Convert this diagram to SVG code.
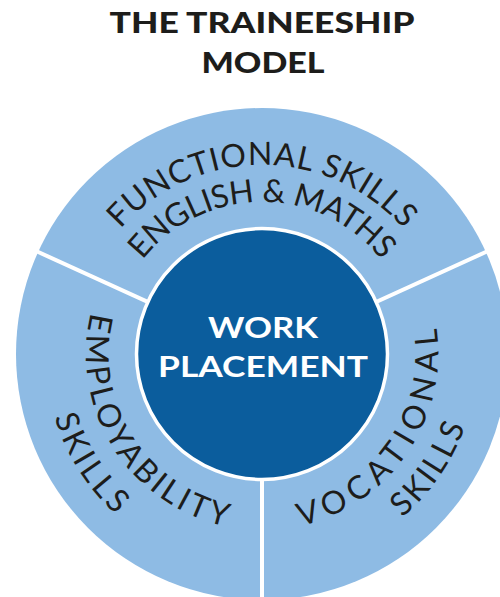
<svg xmlns="http://www.w3.org/2000/svg" width="500" height="597" viewBox="0 0 500 597">
  <defs>
    <style>
      .title { font-family: Lato, "Open Sans", "Liberation Sans", sans-serif; font-weight: 900; font-size: 28px; fill: #1d1d1b; }
      .center { font-family: Lato, "Open Sans", "Liberation Sans", sans-serif; font-weight: 700; font-size: 28px; fill: #ffffff; }
      .arc { font-family: Lato, "Open Sans", "Liberation Sans", sans-serif; font-weight: 400; font-size: 32px; fill: #1d1d1b; }
      .divider { stroke: #ffffff; stroke-width: 4; fill: none; }
    </style>
    <path id="pFunc" d="M 73 354 A 189 189 0 0 1 451 354"/>
    <path id="pEng" d="M 110 354 A 152 152 0 0 1 414 354"/>
    <path id="pEmp" d="M 167.95 205.23 A 176 176 0 0 0 356.05 502.77"/>
    <path id="pSkL" d="M 146.04 170.57 A 217 217 0 0 0 377.96 537.43"/>
    <path id="pVoc" d="M 161.75 499.87 A 177 177 0 0 0 362.25 208.13"/>
    <path id="pSkR" d="M 139.09 532.83 A 217 217 0 0 0 384.91 175.17"/>
  </defs>

  <rect width="500" height="597" fill="#ffffff"/>

  <g id="title">
    <text class="title" x="262" y="33" text-anchor="middle" textLength="305" lengthAdjust="spacingAndGlyphs">THE TRAINEESHIP</text>
    <text class="title" x="263" y="73" text-anchor="middle" textLength="123" lengthAdjust="spacingAndGlyphs">MODEL</text>
  </g>

  <g id="outer-ring">
    <circle cx="262" cy="354" r="246" fill="#8ebbe4"/>
  </g>

  <g id="connectors">
    <line class="divider" x1="262" y1="354" x2="34.5" y2="250.3"/>
    <line class="divider" x1="262" y1="354" x2="489.5" y2="250.3"/>
    <line class="divider" x1="262" y1="354" x2="262" y2="600"/>
  </g>

  <g id="segment-functional-skills">
    <text class="arc"><textPath href="#pFunc" startOffset="50%" text-anchor="middle" textLength="320" lengthAdjust="spacing">FUNCTIONAL SKILLS</textPath></text>
    <text class="arc"><textPath href="#pEng" startOffset="50%" text-anchor="middle" textLength="275" lengthAdjust="spacing">ENGLISH &amp; MATHS</textPath></text>
  </g>

  <g id="segment-employability-skills">
    <text class="arc"><textPath href="#pEmp" startOffset="50%" text-anchor="middle" textLength="282" lengthAdjust="spacing">EMPLOYABILITY</textPath></text>
    <text class="arc"><textPath href="#pSkL" startOffset="50%" text-anchor="middle" textLength="117" lengthAdjust="spacing">SKILLS</textPath></text>
  </g>

  <g id="segment-vocational-skills">
    <text class="arc"><textPath href="#pVoc" startOffset="50%" text-anchor="middle" textLength="264" lengthAdjust="spacing">VOCATIONAL</textPath></text>
    <text class="arc"><textPath href="#pSkR" startOffset="50%" text-anchor="middle" textLength="112" lengthAdjust="spacing">SKILLS</textPath></text>
  </g>

  <g id="center-work-placement">
    <circle cx="262" cy="354" r="125.5" fill="#0b5d9d" stroke="#ffffff" stroke-width="3.5"/>
    <text class="center" x="263" y="338" text-anchor="middle" textLength="110" lengthAdjust="spacingAndGlyphs">WORK</text>
    <text class="center" x="263" y="377" text-anchor="middle" textLength="210" lengthAdjust="spacingAndGlyphs">PLACEMENT</text>
  </g>
</svg>
